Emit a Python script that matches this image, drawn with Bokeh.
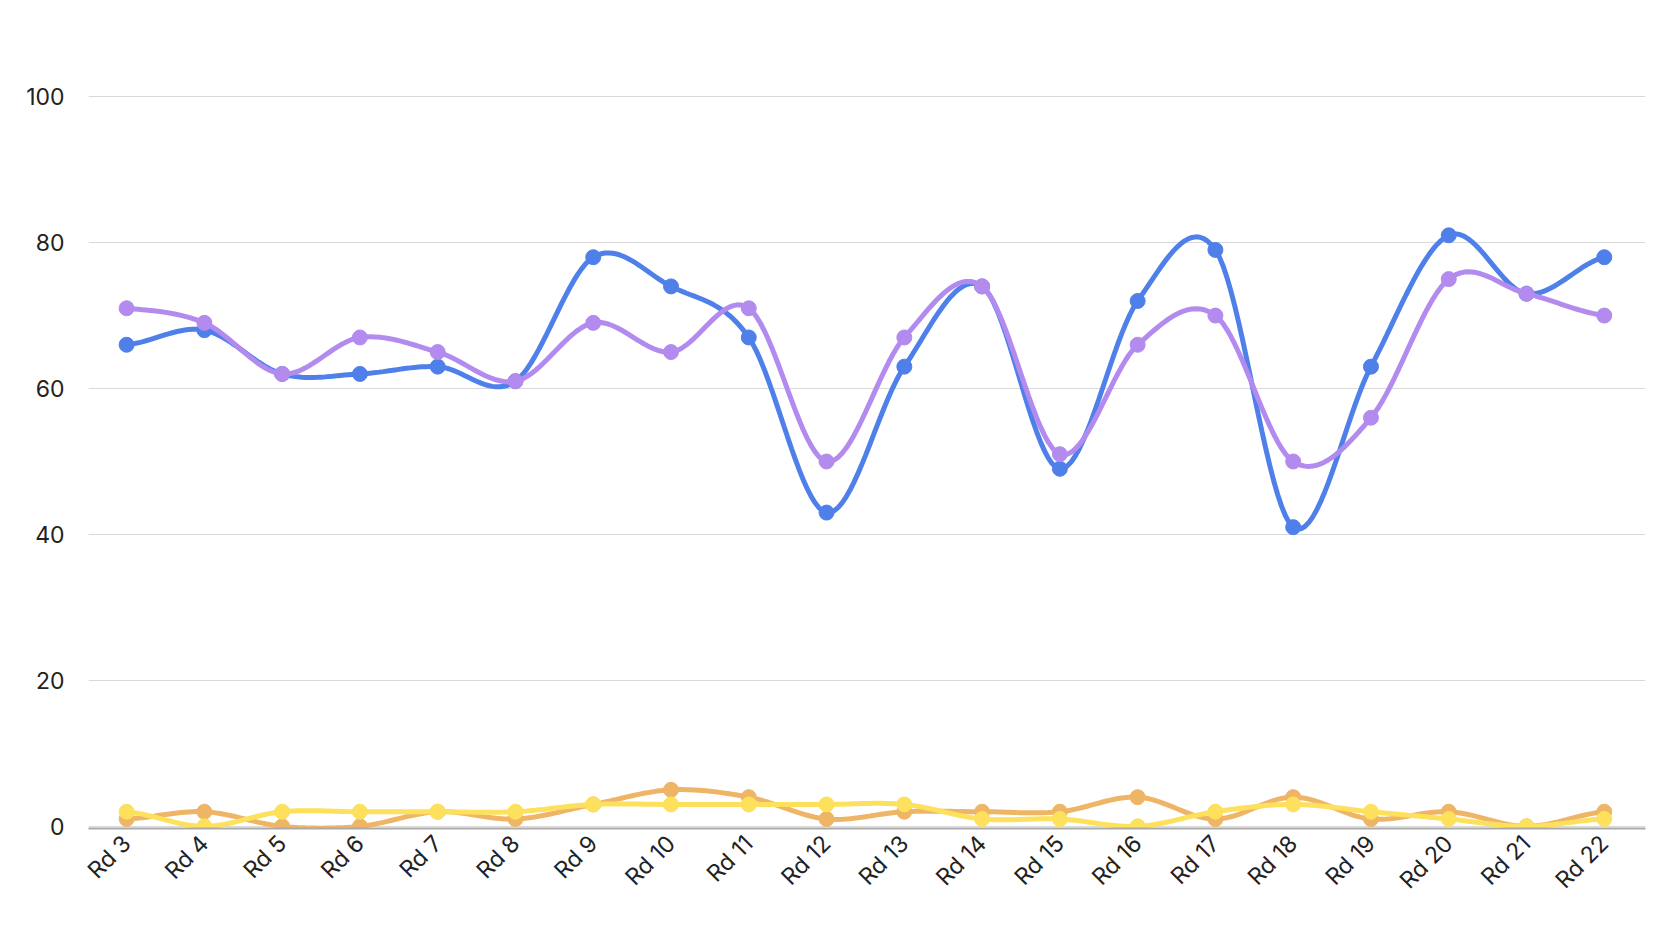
import numpy as np
from bokeh.plotting import figure
from bokeh.models import Range1d, Legend, LegendItem, FixedTicker
from bokeh.embed import file_html
from bokeh.resources import INLINE

rounds = ["Rd 3","Rd 4","Rd 5","Rd 6","Rd 7","Rd 8","Rd 9","Rd 10","Rd 11","Rd 12",
          "Rd 13","Rd 14","Rd 15","Rd 16","Rd 17","Rd 18","Rd 19","Rd 20","Rd 21","Rd 22"]
wh_2025 = [66,68,62,62,63,61,78,74,67,43,63,74,49,72,79,41,63,81,73,78]
wh_2026 = [71,69,62,67,65,61,69,65,71,50,67,74,51,66,70,50,56,75,73,70]
dwh_2025 = [1,2,0,0,2,1,3,5,4,1,2,2,2,4,1,4,1,2,0,2]
dwh_2026 = [2,0,2,2,2,2,3,3,3,3,3,1,1,0,2,3,2,1,0,1]

series = [("2025 WH", wh_2025, "#4f80ea"), ("2026 WH", wh_2026, "#b38bef"),
          ("2025 DWH", dwh_2025, "#efb566"), ("2026 DWH", dwh_2026, "#fde15c")]

def smooth(xs, ys, n=20):
    xs = np.asarray(xs, float); ys = np.asarray(ys, float)
    px = np.concatenate([[2*xs[0]-xs[1]], xs, [2*xs[-1]-xs[-2]]])
    py = np.concatenate([[ys[0]], ys, [ys[-1]]])
    ox, oy = [], []
    for i in range(1, len(px)-2):
        t = np.linspace(0, 1, n, endpoint=False)
        for arr, out in ((px, ox), (py, oy)):
            p0, p1, p2, p3 = arr[i-1], arr[i], arr[i+1], arr[i+2]
            out.extend(0.5*((2*p1) + (-p0+p2)*t + (2*p0-5*p1+4*p2-p3)*t**2 + (-p0+3*p1-3*p2+p3)*t**3))
    ox.append(xs[-1]); oy.append(ys[-1])
    return ox, oy

xs = list(range(len(rounds)))
p = figure(width=1664, height=928, output_backend="svg", toolbar_location=None,
           x_range=Range1d(-0.49, 19.53), y_range=Range1d(-0.3, 100.3),
           min_border_left=88, min_border_right=19, min_border_bottom=100, min_border_top=94)
p.outline_line_color = None
p.xgrid.grid_line_color = None
p.ygrid.grid_line_color = "#d9d9d9"
p.yaxis.ticker = FixedTicker(ticks=[0,20,40,60,80,100])
p.xaxis.ticker = FixedTicker(ticks=xs)
p.xaxis.major_label_overrides = {i: r for i, r in enumerate(rounds)}
p.xaxis.major_label_orientation = 0.785
for ax in (p.xaxis, p.yaxis):
    ax.major_label_text_font = "Inter"
    ax.major_label_text_font_size = "23px"
    ax.major_label_text_color = "#222222"
    ax.major_tick_line_color = None
    ax.minor_tick_line_color = None
p.yaxis.axis_line_color = None
p.yaxis.major_label_standoff = 18
p.xaxis.axis_line_color = "#aaaaaa"
p.xaxis.axis_line_width = 2

items = []
for name, ys, c in series:
    sx, sy = smooth(xs, ys)
    p.line(sx, sy, line_color=c, line_width=5)
    r = p.scatter(xs, ys, size=15, fill_color=c, line_color=c)
    items.append(LegendItem(label=name, renderers=[r]))

leg = Legend(items=items, orientation="horizontal", location=(318, 766),
             label_text_font="Inter", label_text_font_size="24px", label_text_color="#222222",
             glyph_width=30, glyph_height=30, spacing=40, border_line_color=None,
             background_fill_alpha=0, margin=0, padding=4)
p.add_layout(leg, "center")

open("out.html", "w").write(file_html(p, INLINE))
